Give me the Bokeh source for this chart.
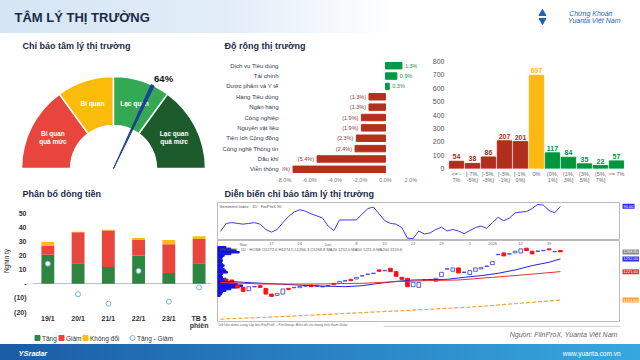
import math
from bokeh.plotting import figure
from bokeh.models import (Range1d, FixedTicker, Label, ColumnDataSource, PrintfTickFormatter)
from bokeh.layouts import column, row
from bokeh.embed import file_html
from bokeh.resources import INLINE
from bokeh.core.properties import value

FONT = "Liberation Sans"
NAVY = "#1B2A4A"

# ---------------- data ----------------
gauge_bounds = [0, 30, 50, 70, 100]
gauge_names = ["Bi quan\nquá mức", "Bi quan", "Lạc quan", "Lạc quan\nquá mức"]
gauge_colors = ["#E8453C", "#FBBC09", "#34A853", "#1D5B2C"]
gauge_value = 64

sectors = ["Dịch vụ Tiêu dùng", "Tài chính", "Dược phẩm và Y tế", "Hàng Tiêu dùng",
           "Ngân hàng", "Công nghiệp", "Nguyên vật liệu", "Tiện ích Cộng đồng",
           "Công nghệ Thông tin", "Dầu khí", "Viễn thông"]
breadth = [1.3, 0.9, 0.3, -1.3, -1.3, -1.9, -1.9, -2.3, -2.4, -5.4, -7.3]
breadth_ticks = [-8, -6, -4, -2, 0, 2]

hist_bins = ["<= -\n7%", "[-7%,\n-5%)", "[-5%,\n-3%)", "[-3%,\n-1%)", "[-1%,\n0%)", "0%",
             "(0%,\n1%]", "(1%,\n3%]", "(3%,\n5%]", "(5%,\n7%]", ">= 7%"]
hist_counts = [54, 38, 86, 207, 201, 697, 117, 84, 35, 22, 57]
hist_colors = ["#B22E1C"] * 5 + ["#FDB913"] + ["#00963F"] * 5
hist_ticks = [0, 100, 200, 300, 400, 500, 600, 700, 800]

flow_days = ["19/1", "20/1", "21/1", "22/1", "23/1", "TB 5\nphiên"]
flow_up = [20.5, 14.5, 11.8, 20.0, 7.7, 14.5]
flow_down = [6.3, 21.9, 25.9, 10.9, 20.3, 17.1]
flow_flat = [2.7, 0.3, 0.4, 1.4, 2.9, 2.0]
flow_net = [14.2, -7.4, -14.1, 9.1, -12.6, -2.6]
flow_series = ["Tăng", "Giảm", "Không đổi", "Tăng - Giảm"]
flow_tick_vals = [-20, -10, 0, 10, 20, 30, 40, 50]
flow_tick_labels = ["(20)", "(10)", "-", "10", "20", "30", "40", "50"]

senti_line = [24, 45, 47, 45, 43, 45, 47, 43, 29, 22, 29, 47, 63, 75, 81, 77, 70, 65, 59, 38,
              26, 54, 54, 54, 54, 70, 84, 88, 70, 52, 45, 43, 34, 6, 5, 25, 17, 20, 29, 35,
              25, 29, 25, 18, 26, 34, 38, 32, 47, 61, 52, 59, 73, 75, 76, 84, 95, 93, 79, 73, 90]
c_open = [1204, 1201.6, 1189.6, 1184, 1176, 1185, 1188, 1181.6, 1168, 1164.8,
          1168, 1181.6, 1183, 1183.2, 1186.4, 1189.6, 1186, 1185, 1187.5, 1193.6,
          1193.6, 1199, 1203.2, 1204, 1211, 1215, 1217, 1225.6, 1223.5, 1229.6,
          1221.6, 1208, 1205.6, 1185.6, 1184, 1201, 1202, 1198.4, 1209.6, 1227.5,
          1222.4, 1230.4, 1219.5, 1214.4, 1222.4, 1228, 1234, 1238.4, 1262, 1266.4,
          1263.5, 1266.4, 1266.4, 1277.6, 1270.4, 1270, 1271.5, 1276, 1269, 1272]
c_close = [1200, 1193.6, 1182.4, 1174.4, 1185.6, 1186, 1184, 1168, 1162.4, 1169.6,
           1180, 1179.2, 1184, 1186.4, 1188.8, 1185.6, 1188.8, 1186, 1188.5, 1190.4,
           1198.4, 1200, 1200, 1208, 1212, 1216, 1218, 1222.4, 1224.5, 1221.6,
           1210.4, 1203.2, 1185.6, 1196, 1196, 1202, 1203, 1205.6, 1220, 1228.5,
           1230.4, 1218.4, 1220.5, 1224, 1230.4, 1231.2, 1235, 1245.6, 1263, 1259.2,
           1264.5, 1270.4, 1276, 1272, 1264, 1271, 1272.5, 1273.6, 1270, 1268.8]
ma20_x = [0, 4, 10, 16, 22, 25, 28, 31, 34, 37, 40, 43, 46, 49, 52, 55, 58, 60]
ma20_y = [1200, 1196, 1192, 1188, 1185.6, 1188, 1193.6, 1198.4, 1201.6, 1202.4, 1203.2,
          1208, 1212, 1217.6, 1225.6, 1236, 1244, 1252]
ma50_x = [0, 7, 16, 25, 31, 36, 42, 48, 54, 60]
ma50_y = [1196, 1192, 1192, 1193.6, 1197.6, 1200, 1201.6, 1208, 1214.4, 1221.6]
ma200_x = [0, 10, 22, 34, 45, 60]
ma200_y = [1108, 1113.6, 1121.6, 1129.6, 1137.6, 1153.6]
profile_price = [1280, 1276, 1272, 1268, 1264, 1260, 1256, 1252, 1248, 1244, 1240, 1236, 1232,
                 1228, 1224, 1220, 1216, 1212, 1208, 1204, 1200, 1196, 1192, 1188, 1184, 1180,
                 1176, 1172, 1168, 1164]
profile_vol = [25, 40, 55, 65, 40, 20, 15, 12, 15, 12, 15, 20, 15, 20, 25, 30, 15, 12, 15, 25,
               30, 45, 60, 75, 55, 40, 25, 15, 12, 8]
date_idx = [4, 9, 14, 19, 24, 29, 34, 39, 44, 48, 53, 58]
date_lbl = ["Nov", "17", "24", "Dec", "8", "15", "22", "29", "5", "2026", "12", "19"]


def base(w, h, xr, yr, axes=True, **kw):
    extra = {} if axes else dict(x_axis_location=None, y_axis_location=None)
    p = figure(width=w, height=h, x_range=xr, y_range=yr, output_backend="svg",
               toolbar_location=None, **extra, **kw)
    p.outline_line_color = None
    p.border_fill_color = None
    p.background_fill_color = None
    p.xgrid.visible = False
    p.ygrid.visible = False
    return p


def strip(w, h, **kw):
    return base(w, h, Range1d(0, w), Range1d(0, h), axes=False, min_border=0, **kw)


def style_axes(p):
    for ax in p.axis:
        ax.axis_line_color = None
        ax.major_tick_line_color = None
        ax.minor_tick_line_color = None
        ax.major_tick_out = 0
        ax.major_tick_in = 0
        ax.minor_tick_out = 0
        ax.minor_tick_in = 0
        ax.major_label_text_font = FONT


def add_title(p, text, x, y, size="9px"):
    p.add_layout(Label(x=x, y=y, text=text, text_font=FONT, text_font_size=size,
                       text_font_style="bold", text_color=NAVY, text_baseline="middle"))


def W(p):
    return column(p, spacing=0)


# ---------------- header ----------------
hdr = strip(640, 33, styles={"background": "linear-gradient(90deg, #D5E5F4 0%, #E2EDF8 35%, #FFFFFF 62%)"})
hdr.add_layout(Label(x=14, y=16.5, text="TÂM LÝ THỊ TRƯỜNG", text_font=FONT,
                     text_font_size="13px", text_font_style="bold", text_color=NAVY,
                     text_baseline="middle"))
hdr.scatter(x=[542], y=[20], marker="triangle", size=7, color="#1E63B4")
hdr.scatter(x=[542], y=[13], marker="inverted_triangle", size=7, color="#1E63B4")
hdr.add_layout(Label(x=612, y=20, text="Chứng Khoán", text_font=FONT, text_font_size="7px",
                     text_font_style="italic", text_color="#2A66B8", text_baseline="middle",
                     text_align="right"))
hdr.add_layout(Label(x=620, y=13, text="Yuanta Việt Nam", text_font=FONT, text_font_size="7px",
                     text_font_style="italic", text_color="#2A66B8", text_baseline="middle",
                     text_align="right"))

# ---------------- gauge ----------------
g = base(212, 153, Range1d(-113, 99), Range1d(-18, 135), axes=False, min_border=0)
ang = [math.pi * (1 - v / 100) for v in gauge_bounds]
mid = [(ang[i] + ang[i + 1]) / 2 for i in range(4)]
gsrc = ColumnDataSource(dict(start=ang[1:], end=ang[:-1], color=gauge_colors, name=gauge_names,
                             lx=[68 * math.cos(m) for m in mid], ly=[68 * math.sin(m) for m in mid]))
g.annular_wedge(x=0, y=0, inner_radius=43, outer_radius=92, start_angle="start", end_angle="end",
                fill_color="color", line_color="white", line_width=1.5, source=gsrc)
g.text(x="lx", y="ly", text="name", source=gsrc, text_font=value(FONT), text_font_size="6.5px",
       text_font_style="bold", text_color="white", text_align="center", text_baseline="middle",
       text_line_height=1.15)
a = math.pi * (1 - gauge_value / 100)
g.wedge(x=0, y=0, radius=92, start_angle=a - 0.018, end_angle=a + 0.018, color="#1F3F99")
g.text(x=[100 * math.cos(a) - 2], y=[100 * math.sin(a)], text=[f"{gauge_value}%"],
       text_font=value(FONT), text_font_size="9.5px", text_font_style="bold",
       text_color="#111111", text_align="left", text_baseline="middle")
add_title(g, "Chỉ báo tâm lý thị trường", -91, 123)

# ---------------- breadth ----------------
bt = strip(208, 20)
add_title(bt, "Độ rộng thị trường", 12, 8)
b = base(208, 133, Range1d(-8.13, 2.53), Range1d(10.5, -0.5),
         min_border_left=70, min_border_right=3, min_border_top=7, min_border_bottom=12)
style_axes(b)
bidx = list(range(len(sectors)))
bsrc = ColumnDataSource(dict(
    y=bidx, v=breadth,
    color=["#009A44" if v > 0 else "#B5301C" for v in breadth],
    lab=[f"{v:.1f}%" if v > 0 else f"({-v:.1f}%)" for v in breadth],
    align=["left" if v > 0 else "right" for v in breadth],
    off=[3 if v > 0 else -3 for v in breadth],
    tcol=["#1E8C4E" if v > 0 else "#8C3A2E" for v in breadth]))
b.hbar(y="y", left=0, right="v", height=0.62, color="color", source=bsrc)
b.text(x="v", y="y", text="lab", x_offset="off", text_align="align", text_baseline="middle",
       text_font=value(FONT), text_font_size="5.5px", text_color="tcol", source=bsrc)
b.yaxis.ticker = FixedTicker(ticks=bidx)
b.yaxis.major_label_overrides = {i: s for i, s in enumerate(sectors)}
b.yaxis.major_label_text_font_size = "6px"
b.yaxis.major_label_text_color = "#2F3B4C"
b.yaxis.major_label_standoff = 4
b.xaxis.ticker = FixedTicker(ticks=breadth_ticks)
b.xaxis.formatter = PrintfTickFormatter(format="%.1f%%")
b.xaxis.major_label_text_font_size = "5.5px"
b.xaxis.major_label_text_color = "#777777"
b.xaxis.major_label_standoff = 2

# ---------------- histogram ----------------
h = base(220, 153, Range1d(-0.5, 10.5), Range1d(0, 800),
         min_border_left=28, min_border_right=16, min_border_top=28, min_border_bottom=18)
style_axes(h)
hx = list(range(len(hist_bins)))
hsrc = ColumnDataSource(dict(x=hx, v=hist_counts, color=hist_colors,
                             lab=[str(c) for c in hist_counts]))
h.vbar(x="x", top="v", width=0.9, color="color", source=hsrc)
h.text(x="x", y="v", text="lab", y_offset=-2, text_align="center", text_baseline="bottom",
       text_font=value(FONT), text_font_size="7px", text_font_style="bold",
       text_color="color", source=hsrc)
h.yaxis.ticker = FixedTicker(ticks=hist_ticks)
h.yaxis.major_label_text_font_size = "7px"
h.yaxis.major_label_text_color = "#555555"
h.yaxis.major_label_standoff = 4
h.xaxis.ticker = FixedTicker(ticks=hx)
h.xaxis.major_label_overrides = {i: s for i, s in enumerate(hist_bins)}
h.xaxis.major_label_text_font_size = "5.5px"
h.xaxis.major_label_text_color = "#666677"
h.xaxis.major_label_text_line_height = 1.0
h.xaxis.major_label_standoff = 2

# ---------------- flow ----------------
GREEN, RED, YEL, NETC = "#2E8540", "#E8453C", "#FBBA14", "#7FB2E0"
ft = strip(212, 14)
add_title(ft, "Phân bổ dòng tiền", 22, 7)
f = base(212, 131, Range1d(-0.507, 5.41), Range1d(-20.3, 52.5),
         min_border_left=30, min_border_right=1, min_border_top=9, min_border_bottom=16)
style_axes(f)
fx = list(range(len(flow_days)))
fsrc = ColumnDataSource(dict(x=fx, up=flow_up, down=flow_down, flat=flow_flat, net=flow_net))
f.vbar_stack(["up", "down", "flat"], x="x", width=0.425, fill_color=[GREEN, RED, YEL],
             line_color=None, source=fsrc)
f.scatter(x="x", y="net", source=fsrc, size=5, marker="circle", fill_color="white",
          line_color=NETC, line_width=1)
f.ygrid.visible = True
f.ygrid.ticker = FixedTicker(ticks=[0])
f.ygrid.grid_line_color = "#BFBFBF"
f.yaxis.ticker = FixedTicker(ticks=flow_tick_vals)
f.yaxis.major_label_overrides = dict(zip(flow_tick_vals, flow_tick_labels))
f.yaxis.major_label_text_font_size = "7px"
f.yaxis.major_label_text_font_style = "bold"
f.yaxis.major_label_text_color = "#333333"
f.yaxis.major_label_standoff = 6
f.yaxis.axis_label = "Nghìn tỷ"
f.yaxis.axis_label_text_font = FONT
f.yaxis.axis_label_text_font_size = "6.5px"
f.yaxis.axis_label_text_font_style = "normal"
f.yaxis.axis_label_text_color = "#333333"
f.yaxis.axis_label_standoff = 1
f.xaxis.ticker = FixedTicker(ticks=fx)
f.xaxis.major_label_overrides = {i: s for i, s in enumerate(flow_days)}
f.xaxis.major_label_text_font_size = "7px"
f.xaxis.major_label_text_font_style = "bold"
f.xaxis.major_label_text_color = "#333333"
f.xaxis.major_label_text_line_height = 1.0
f.xaxis.major_label_standoff = 2

# legend strip (swatches + labels)
fl = strip(212, 13)
leg_x = [37, 61, 85, 132]
leg_src = ColumnDataSource(dict(x=leg_x, y=[6.5] * 4, tx=[v + 4.5 for v in leg_x],
                                fill=[GREEN, RED, YEL, "white"], line=[GREEN, RED, YEL, NETC],
                                marker=["square", "square", "square", "circle"],
                                label=flow_series))
fl.scatter(x="x", y="y", size=5, marker="marker", fill_color="fill", line_color="line",
           line_width=1, source=leg_src)
fl.text(x="tx", y="y", text="label", source=leg_src, text_font=value(FONT),
        text_font_size="6.5px", text_color="#333333", text_baseline="middle", text_align="left")

# ---------------- sentiment chart ----------------
stt = strip(428, 16)
add_title(stt, "Diễn biến chỉ báo tâm lý thị trường", 12, 9)
xr = Range1d(-0.53, 70.6)
yr_top = Range1d(0, 100)
yr_bot = Range1d(1100, 1296)
st = base(408, 38, xr, yr_top, axes=False, min_border_left=5, min_border_right=0,
          min_border_top=0, min_border_bottom=0)
st.outline_line_color = "#BBBBBB"
st.line(x=list(range(len(senti_line))), y=senti_line, color="#3B3BF0", line_width=1)
st.add_layout(Label(x=2, y=37, x_units="screen", y_units="screen",
                    text="Sentiment Index · 1D · FiinProX  " + str(senti_line[-1]),
                    text_font=FONT, text_font_size="4px", text_color="#555555", text_baseline="top"))
st_r = base(20, 38, Range1d(0, 20), yr_top, axes=False, min_border=0)
st_r.add_layout(Label(x=2, y=senti_line[-1], text=f"{senti_line[-1]:.2f}", text_font=FONT,
                      text_font_size="4px", text_color="white", background_fill_color="#2F2FE8",
                      text_baseline="middle", padding=1))

sb = base(408, 82, xr, yr_bot, axes=False, min_border_left=5, min_border_right=0,
          min_border_top=0, min_border_bottom=0)
sb.outline_line_color = "#BBBBBB"
sb.hbar(y=profile_price, left=xr.start, right=[xr.start + v / 17 for v in profile_vol],
        height=3.6, color="#1212E0")
cx = list(range(1, len(c_open) + 1))
up_i = [i for i in range(len(c_open)) if c_close[i] >= c_open[i]]
dn_i = [i for i in range(len(c_open)) if c_close[i] < c_open[i]]
sb.vbar(x=[cx[i] for i in up_i], bottom=[c_open[i] for i in up_i], top=[c_close[i] for i in up_i],
        width=0.65, fill_color="white", line_color="#3535D0", line_width=0.8)
sb.vbar(x=[cx[i] for i in dn_i], bottom=[c_close[i] for i in dn_i], top=[c_open[i] for i in dn_i],
        width=0.65, fill_color="#FF1010", line_color="#FF1010")
sb.line(x=ma20_x, y=ma20_y, color="#2323E0", line_width=1)
sb.line(x=ma50_x, y=ma50_y, color="#E83030", line_width=1)
sb.line(x=ma200_x, y=ma200_y, color="#F5A040", line_width=1.2, line_dash="4 2")
sb.text(x=date_idx, y=[yr_bot.end] * len(date_idx), text=date_lbl, text_font=value(FONT),
        text_font_size="4px", text_color="#666666", text_align="center", text_baseline="top",
        y_offset=1)
sb.add_layout(Label(x=2, y=76, x_units="screen", y_units="screen",
                    text="VNINDEX · 1D · HOSE  O1272.0 H1274.5 L1266.3 C1268.8   MA20 1252.0   MA50 1221.6   MA200 1153.6",
                    text_font=FONT, text_font_size="4px", text_color="#555555", text_baseline="top"))
sb_r = base(20, 82, Range1d(0, 20), yr_bot, axes=False, min_border=0)
for val, col in [(c_close[-1], "#888888"), (ma20_y[-1], "#2F2FE8"), (ma50_y[-1], "#E83030"),
                 (ma200_y[-1], "#F5A040")]:
    sb_r.add_layout(Label(x=2, y=val, text=f"{val:.2f}", text_font=FONT, text_font_size="4px",
                          text_color="white", background_fill_color=col,
                          text_baseline="middle", padding=1))

sbot = strip(428, 22)
sbot.add_layout(Label(x=6, y=20, text="Dữ liệu được cung cấp bởi FiinProX – FiinGroup. Biểu đồ chỉ mang tính tham khảo.",
                      text_font=FONT, text_font_size="3.5px", text_color="#666666",
                      text_baseline="middle"))
sbot.segment(x0=[171], y0=[18], x1=[408], y1=[18], line_color="#D0D0D0", line_width=1)
sbot.add_layout(Label(x=405, y=10, text="Nguồn: FiinProX, Yuanta Việt Nam", text_font=FONT,
                      text_font_size="7px", text_font_style="italic", text_color="#666666",
                      text_align="right", text_baseline="middle"))

# ---------------- footer ----------------
ftr = strip(640, 16, styles={"background": "linear-gradient(90deg, #1A5CA6 0%, #2A85C6 55%, #37A8DF 100%)"})
ftr.add_layout(Label(x=18, y=7.5, text="YSradar", text_font=FONT, text_font_size="7.5px",
                     text_font_style="bold italic", text_color="white", text_baseline="middle"))
ftr.add_layout(Label(x=620, y=7.5, text="www.yuanta.com.vn", text_font=FONT, text_font_size="6.5px",
                     text_color="white", text_align="right", text_baseline="middle"))

top_row = row(W(g), column(W(bt), W(b), spacing=0), W(h), spacing=0)
flow_col = column(W(ft), W(f), W(fl), spacing=0)
senti_col = column(W(stt), row(W(st), W(st_r), spacing=0), row(W(sb), W(sb_r), spacing=0),
                   W(sbot), spacing=0)
bottom_row = row(flow_col, senti_col, spacing=0)
layout = column(W(hdr), top_row, bottom_row, W(ftr), spacing=0)

open("out.html", "w").write(file_html(layout, INLINE))
